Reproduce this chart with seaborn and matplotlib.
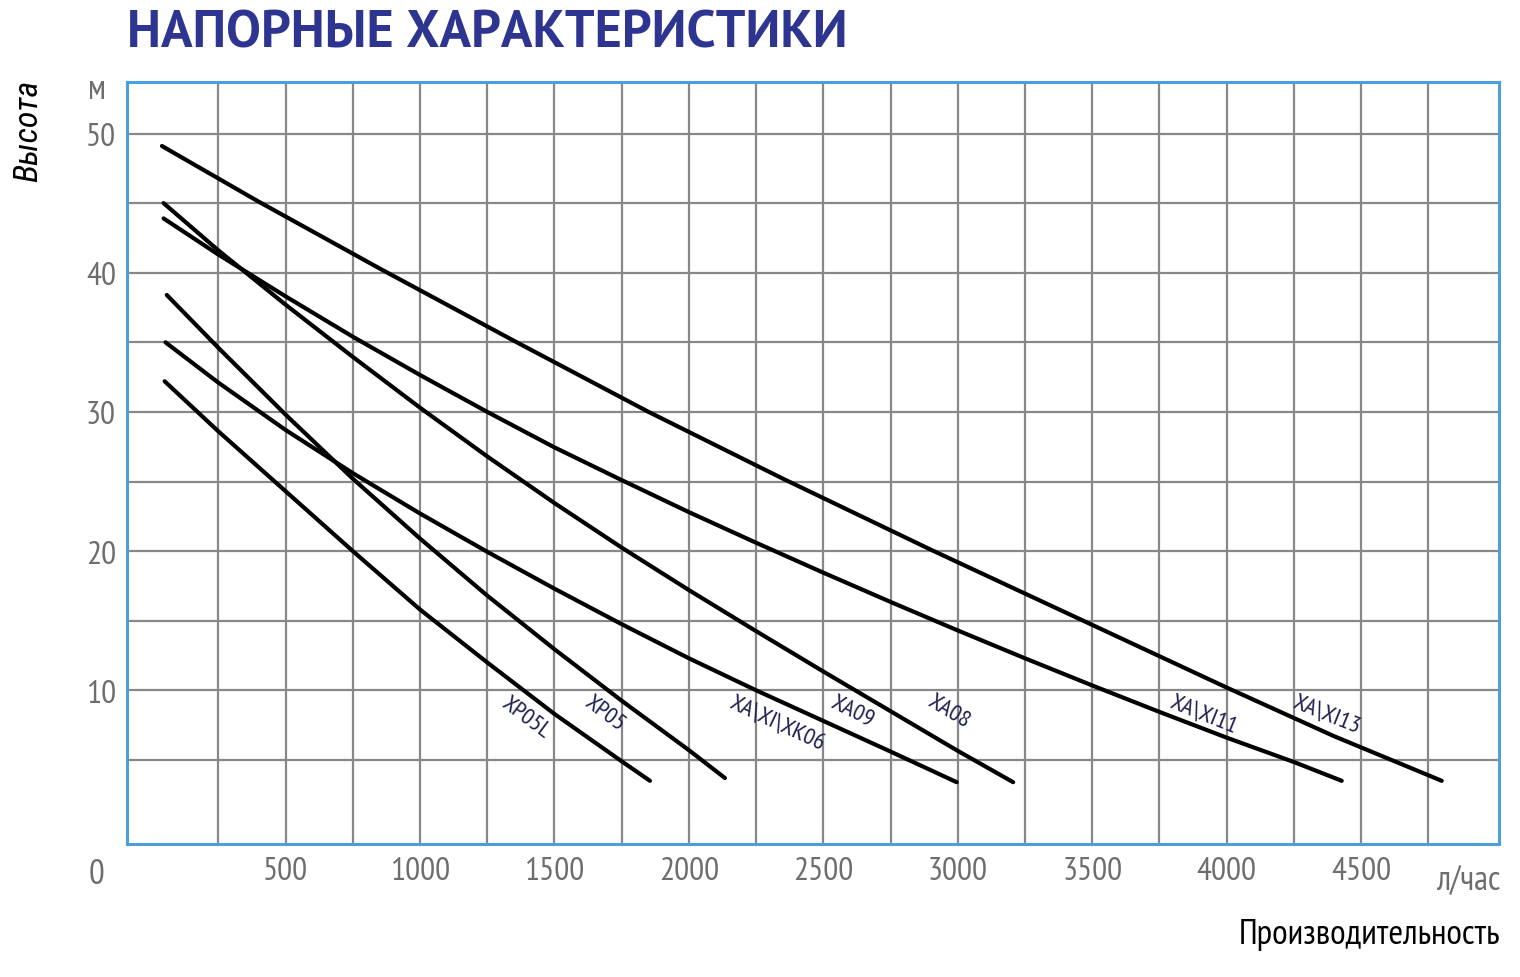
import matplotlib
matplotlib.use('Agg')
import matplotlib.pyplot as plt
from matplotlib import font_manager
import seaborn as sns
import pandas as pd

# напорные характеристики (л/час -> м)
flow_xi13 = [40, 400, 850, 1350, 1850, 2350, 2900, 3450, 4000, 4400, 4800]
head_xi13 = [49.1, 45.1, 40.3, 35.1, 30.0, 25.2, 20.1, 15.15, 10.2, 6.7, 3.5]

flow_xi11 = [46, 250, 500, 750, 1000, 1250, 1500, 1750, 2000, 2250, 2500, 2750, 3000, 3250, 3500, 3750, 4000, 4250, 4428]
head_xi11 = [43.9, 41.3, 38.3, 35.4, 32.65, 30.0, 27.45, 25.1, 22.8, 20.6, 18.45, 16.35, 14.3, 12.3, 10.35, 8.45, 6.6, 4.85, 3.5]

flow_xa09 = [46, 250, 500, 750, 1000, 1250, 1500, 1750, 2000, 2250, 2500, 2750, 3000, 3206]
head_xa09 = [45.0, 41.6, 37.7, 33.95, 30.3, 26.8, 23.45, 20.25, 17.2, 14.25, 11.35, 8.5, 5.65, 3.4]

flow_xk06 = [53, 250, 500, 750, 1000, 1250, 1500, 1750, 2000, 2250, 2500, 2750, 2996]
head_xk06 = [35.0, 32.1, 28.7, 25.6, 22.7, 19.95, 17.3, 14.75, 12.3, 10.0, 7.8, 5.6, 3.4]

flow_xp05 = [58, 250, 500, 750, 1000, 1250, 1500, 1750, 2000, 2134]
head_xp05 = [38.4, 34.6, 29.8, 25.2, 20.9, 16.8, 12.95, 9.25, 5.7, 3.7]

flow_xp05l = [50, 250, 500, 750, 1000, 1250, 1500, 1750, 1855]
head_xp05l = [32.2, 28.6, 24.3, 20.0, 15.8, 12.0, 8.3, 4.9, 3.5]

curve_names = ['XA\\XI13', 'XA\\XI11', 'XA09', 'XA\\XI\\XK06', 'XP05', 'XP05L']
curve_flows = [flow_xi13, flow_xi11, flow_xa09, flow_xk06, flow_xp05, flow_xp05l]
curve_heads = [head_xi13, head_xi11, head_xa09, head_xk06, head_xp05, head_xp05l]

# подписи кривых: текст, x, y, угол
label_text = ['XP05L', 'XP05', 'XA\\XI\\XK06', 'XA09', 'XA08', 'XA\\XI11', 'XA\\XI13']
label_x = [1393, 1688, 2326, 2611, 2965, 3916, 4372]
label_y = [8.1, 8.4, 7.6, 8.6, 8.5, 8.3, 8.3]
label_rot = [-37, -37, -25, -26, -31, -22, -22]

x_ticks = list(range(250, 5000, 250))
y_ticks = list(range(5, 55, 5))

GREY_TEXT = '#6d6d6d'
BLUE_FRAME = '#4b9fdc'
TITLE_BLUE = '#2e3590'
LABEL_INK = '#1e2050'

available = {(f.name, f.style) for f in font_manager.fontManager.ttflist}


def pick_font(candidates, style='normal'):
    for name in candidates:
        if (name, style) in available:
            return name
    return 'DejaVu Sans'


NARROW = pick_font(['PT Sans Narrow', 'Roboto Condensed', 'Fira Sans Condensed', 'Ubuntu Condensed',
                    'Archivo Narrow', 'Open Sans Condensed', 'Liberation Sans Narrow'])
NARROW_IT = pick_font(['Roboto Condensed', 'Fira Sans Condensed', 'Encode Sans Condensed',
                       'Open Sans Condensed', 'PT Sans'], style='italic')
TITLE_FONT = pick_font(['PT Sans', 'Fira Sans', 'Open Sans', 'Noto Sans'])

sns.set_style('white')
plt.rcParams['font.family'] = [NARROW, 'DejaVu Sans']

frames = []
for name, fl, hd in zip(curve_names, curve_flows, curve_heads):
    frames.append(pd.DataFrame({'flow': fl, 'head': hd, 'model': name}))
df = pd.concat(frames, ignore_index=True)

fig = plt.figure(figsize=(15.2, 9.78), dpi=100)
ax = fig.add_axes([127 / 1520, 1 - 845 / 978, (1499 - 127) / 1520, (845 - 83) / 978])

sns.lineplot(data=df, x='flow', y='head', hue='model', palette=['black'] * len(curve_names),
             sort=False, estimator=None, linewidth=3.0, legend=False, ax=ax, zorder=3)

ax.set_xlim(-90, 5013)
ax.set_ylim(-1.04, 53.7)
ax.set_xticks(x_ticks)
ax.set_xticklabels([str(v) if v % 500 == 0 else '' for v in x_ticks])
ax.set_yticks(y_ticks)
ax.set_yticklabels([str(v) if v % 10 == 0 else '' for v in y_ticks])
ax.tick_params(length=0, labelsize=24, colors=GREY_TEXT)
ax.tick_params(axis='x', pad=9)
ax.tick_params(axis='y', pad=8)
ax.grid(True, color='#888888', linewidth=1.6)
ax.set_axisbelow(True)
ax.set_xlabel('')
ax.set_ylabel('')
for sp in ax.spines.values():
    sp.set_visible(True)
    sp.set_color(BLUE_FRAME)
    sp.set_linewidth(2.2)
    sp.set_zorder(4)

for txt, lx, ly, rot in zip(label_text, label_x, label_y, label_rot):
    ax.text(lx, ly, txt, rotation=rot, rotation_mode='anchor', ha='center', va='center',
            fontsize=17.5, color=LABEL_INK, zorder=5)

title = fig.text(127 / 1520, 1 - 34 / 978, 'НАПОРНЫЕ ХАРАКТЕРИСТИКИ', fontsize=37, fontweight='bold',
                 color=TITLE_BLUE, ha='left', va='center', family=[TITLE_FONT, 'DejaVu Sans'])
ylab = fig.text(28 / 1520, 1 - 131 / 978, 'Высота', rotation=90, fontsize=22, style='italic',
                color='black', ha='center', va='center', family=[NARROW_IT, 'DejaVu Sans'])
fig.text(97 / 1520, 1 - 90 / 978, 'м', fontsize=25, color=GREY_TEXT, ha='center', va='center')
fig.text(97 / 1520, 1 - 875 / 978, '0', fontsize=25, color=GREY_TEXT, ha='center', va='center')
fig.text(1468 / 1520, 1 - 880 / 978, 'л/час', fontsize=25, color=GREY_TEXT, ha='center', va='center')
xlab = fig.text(1500 / 1520, 1 - 935 / 978, 'Производительность', fontsize=22, color='black',
                ha='right', va='center')


def fit_text(txt, target, use_height=False):
    fig.canvas.draw()
    bb = txt.get_window_extent(renderer=fig.canvas.get_renderer())
    size = bb.height if use_height else bb.width
    if size > 0:
        txt.set_fontsize(txt.get_fontsize() * target / size)


fit_text(title, 721)
fit_text(xlab, 260)
fit_text(ylab, 102, use_height=True)

fig.savefig('out.png', dpi=100)
